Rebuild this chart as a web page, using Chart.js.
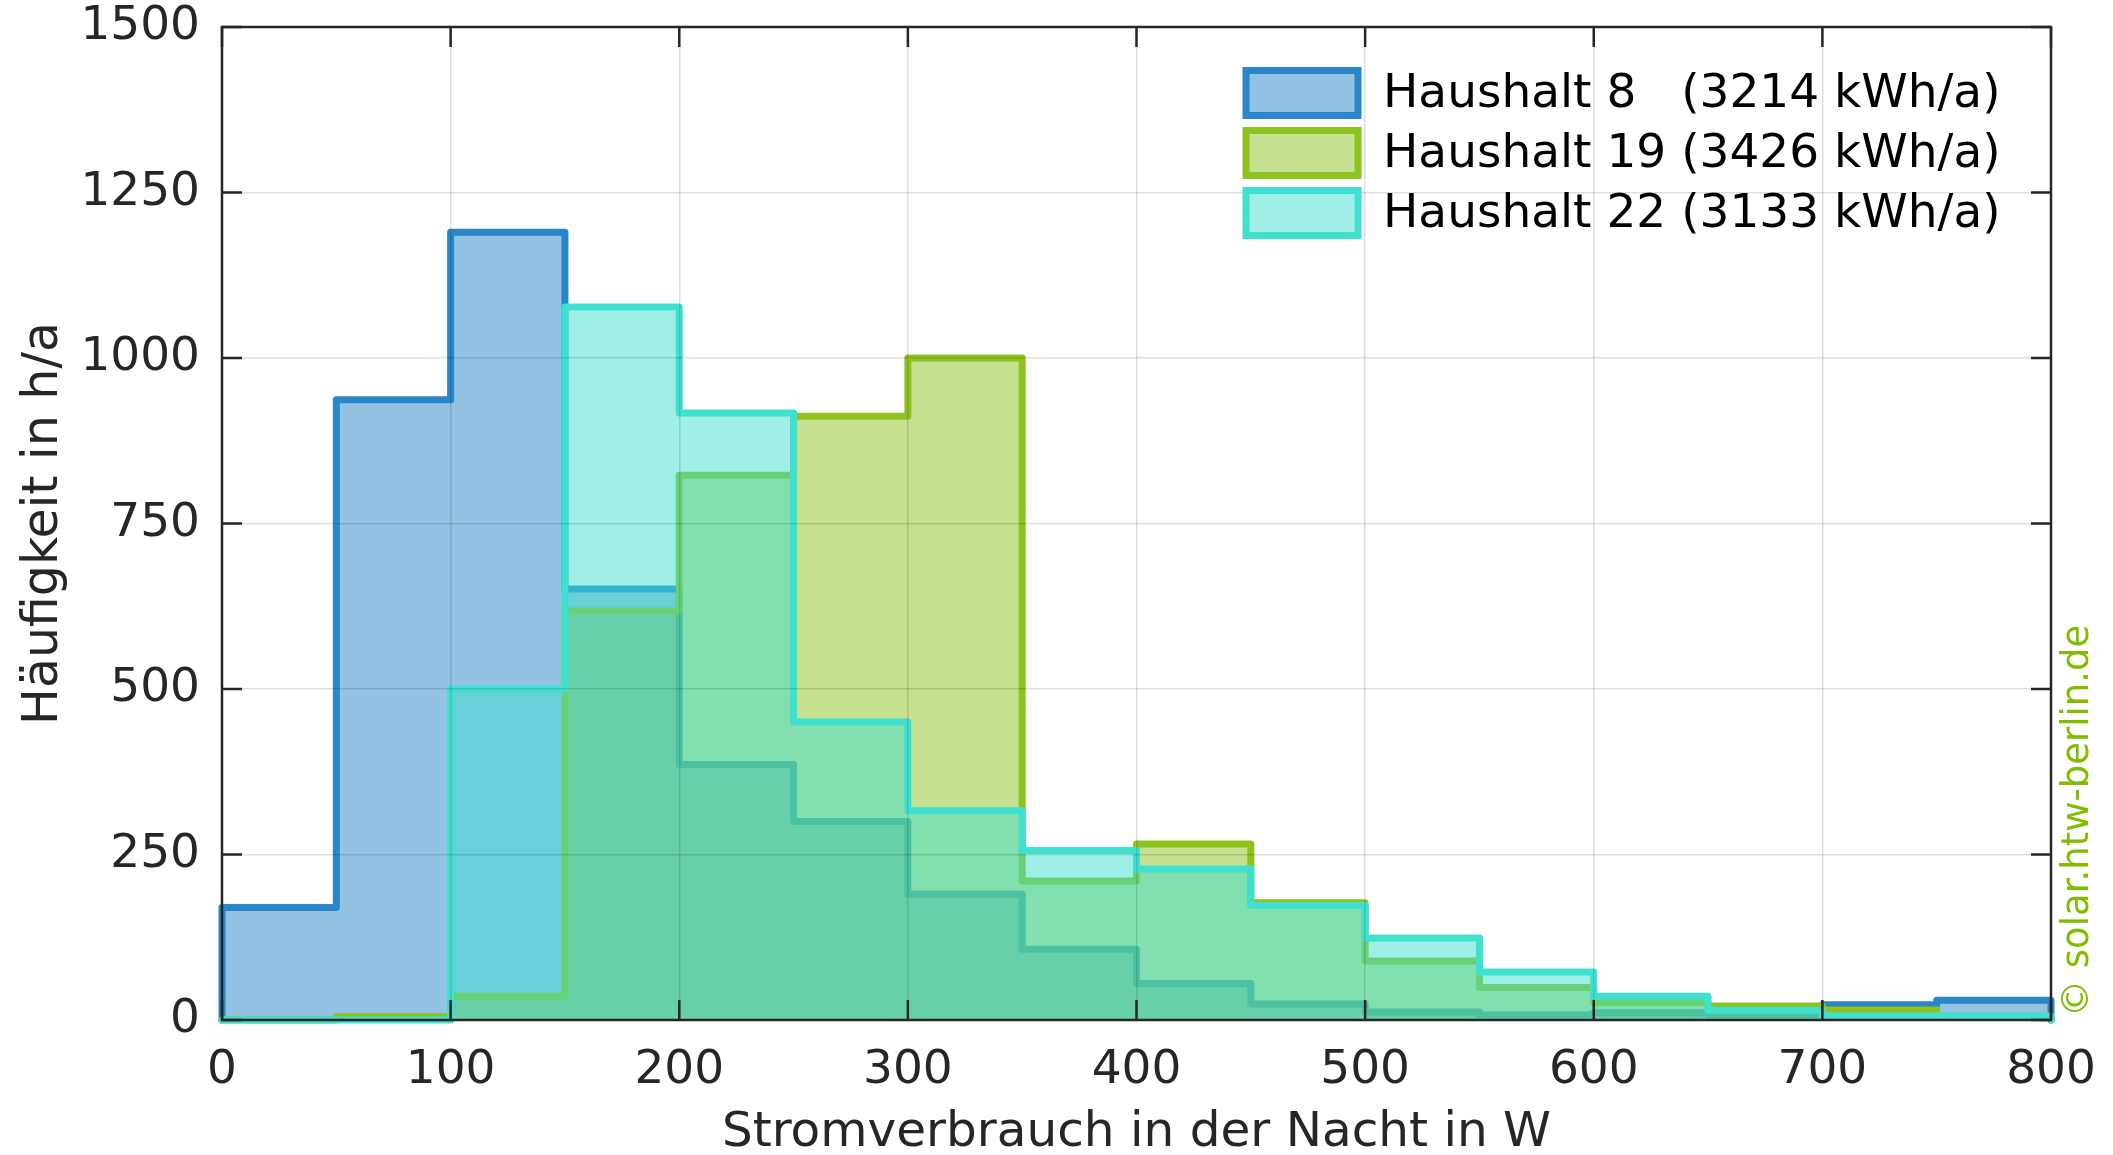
<!DOCTYPE html>
<html><head><meta charset="utf-8">
<script src="https://cdn.jsdelivr.net/npm/chart.js@4/dist/chart.umd.min.js"></script>
<style>html,body{margin:0;padding:0;background:#fff}canvas{display:block}</style>
</head><body>
<canvas id="c" width="2113" height="1155"></canvas>
<script>
// ---- data ----
const binEdges = [0,50,100,150,200,250,300,350,400,450,500,550,600,650,700,750,800];
const xTickValues = [0,100,200,300,400,500,600,700,800];
const yTickValues = [0,250,500,750,1000,1250,1500];
const seriesLabels = ['Haushalt 8   (3214 kWh/a)', 'Haushalt 19 (3426 kWh/a)', 'Haushalt 22 (3133 kWh/a)'];
const haushalt8  = [170, 937, 1190, 651, 386, 300, 190, 107, 55, 24, 12, 7.5, 11, 8, 23, 30];
const haushalt19 = [0, 5, 36, 618, 823, 912, 1000, 210, 266, 177, 89, 49, 26, 21, 15, 5];
const haushalt22 = [0, 0, 500, 1077, 917, 450, 316, 256, 228, 173, 124, 72.5, 36, 14.6, 6, 6];
const xTitle = 'Stromverbrauch in der Nacht in W';
const yTitle = 'Häufigkeit in h/a';
const copyright = '© solar.htw-berlin.de';

const colors = ['#2986C8', '#8DC21F', '#40E0D0'];
const FONT = "'DejaVu Sans', 'Liberation Sans', sans-serif";

function rgba(hex, a){
  const n = parseInt(hex.slice(1),16);
  return `rgba(${(n>>16)&255},${(n>>8)&255},${n&255},${a})`;
}
function stepPoints(vals){
  const last = binEdges[binEdges.length-1];
  const pts = [{x: binEdges[0], y: 0}];
  vals.forEach((v,i) => pts.push({x: binEdges[i], y: v}));
  pts.push({x: last, y: vals[vals.length-1]});
  pts.push({x: last, y: 0});
  return pts;
}
const seriesValues = [haushalt8, haushalt19, haushalt22];
const datasets = seriesValues.map((vals, i) => ({
  label: seriesLabels[i],
  data: stepPoints(vals),
  stepped: 'before',
  borderColor: colors[i],
  backgroundColor: rgba(colors[i], 0.5),
  borderWidth: 7,
  borderJoinStyle: 'round',
  borderCapStyle: 'round',
  pointRadius: 0,
  pointHoverRadius: 0,
  fill: 'origin',
  clip: 5,
  order: 2 - i
}));

const boxPlugin = {
  id: 'boxPlugin',
  afterDraw(chart){
    const {ctx, chartArea: a, scales} = chart;
    ctx.save();
    // inward ticks
    ctx.strokeStyle = '#262626';
    ctx.lineWidth = 2.5;
    ctx.beginPath();
    scales.x.ticks.forEach(t => {
      const px = scales.x.getPixelForValue(t.value);
      ctx.moveTo(px, a.bottom); ctx.lineTo(px, a.bottom - 20);
      ctx.moveTo(px, a.top); ctx.lineTo(px, a.top + 20);
    });
    scales.y.ticks.forEach(t => {
      const py = scales.y.getPixelForValue(t.value);
      ctx.moveTo(a.left, py); ctx.lineTo(a.left + 20, py);
      ctx.moveTo(a.right, py); ctx.lineTo(a.right - 20, py);
    });
    ctx.stroke();
    ctx.strokeRect(a.left, a.top, a.right - a.left, a.bottom - a.top);

    // legend
    const bx = a.right - 805, bw = 112, bh = 45;
    ctx.font = '47px ' + FONT;
    ctx.textBaseline = 'middle';
    ctx.textAlign = 'left';
    seriesLabels.forEach((lab, i) => {
      const cy = a.top + 66 + i * 60;
      ctx.fillStyle = '#ffffff';
      ctx.fillRect(bx, cy - bh/2, bw, bh);
      ctx.fillStyle = rgba(colors[i], 0.5);
      ctx.fillRect(bx, cy - bh/2, bw, bh);
      ctx.strokeStyle = colors[i];
      ctx.lineWidth = 7;
      ctx.strokeRect(bx, cy - bh/2, bw, bh);
      ctx.fillStyle = '#000000';
      ctx.fillText(lab, bx + bw + 25, cy + 2);
    });

    // copyright
    ctx.translate(a.right + 27, a.bottom - 3);
    ctx.rotate(-Math.PI/2);
    ctx.font = '37px ' + FONT;
    ctx.fillStyle = '#80BD00';
    ctx.textAlign = 'left';
    ctx.textBaseline = 'middle';
    ctx.fillText(copyright, 0, 0);
    ctx.restore();
  }
};

const gridOpts = { color: 'rgba(0,0,0,0.13)', lineWidth: 1.5, drawTicks: false, z: 1 };
function noPad(s){ s.paddingTop = 0; s.paddingBottom = 0; s.paddingLeft = 0; s.paddingRight = 0; }

new Chart(document.getElementById('c'), {
  type: 'line',
  data: { datasets },
  plugins: [boxPlugin],
  options: {
    responsive: false,
    devicePixelRatio: 1,
    animation: false,
    layout: { padding: { left: 0, right: 62, top: 27, bottom: 0 } },
    plugins: { legend: { display: false }, tooltip: { enabled: false } },
    scales: {
      x: {
        type: 'linear', min: 0, max: 800,
        afterBuildTicks: s => { s.ticks = xTickValues.map(v => ({value: v})); },
        afterFit: s => { s.height = 135; noPad(s); },
        ticks: { font: { family: FONT, size: 47 }, color: '#262626', padding: 23, maxRotation: 0, autoSkip: false, callback: v => String(v) },
        grid: gridOpts,
        border: { display: false },
        title: { display: true, text: xTitle, font: { family: FONT, size: 48.5, lineHeight: 0.9 }, color: '#262626', padding: { top: 0, bottom: 0 } }
      },
      y: {
        type: 'linear', min: 0, max: 1500,
        afterBuildTicks: s => { s.ticks = yTickValues.map(v => ({value: v})); },
        afterFit: s => { s.width = 222; noPad(s); },
        ticks: { font: { family: FONT, size: 47 }, color: '#262626', padding: 22, callback: v => String(v) },
        grid: gridOpts,
        border: { display: false },
        title: { display: true, text: yTitle, font: { family: FONT, size: 49 }, color: '#262626', padding: { top: 15, bottom: 0 } }
      }
    }
  }
});
</script>
</body></html>
